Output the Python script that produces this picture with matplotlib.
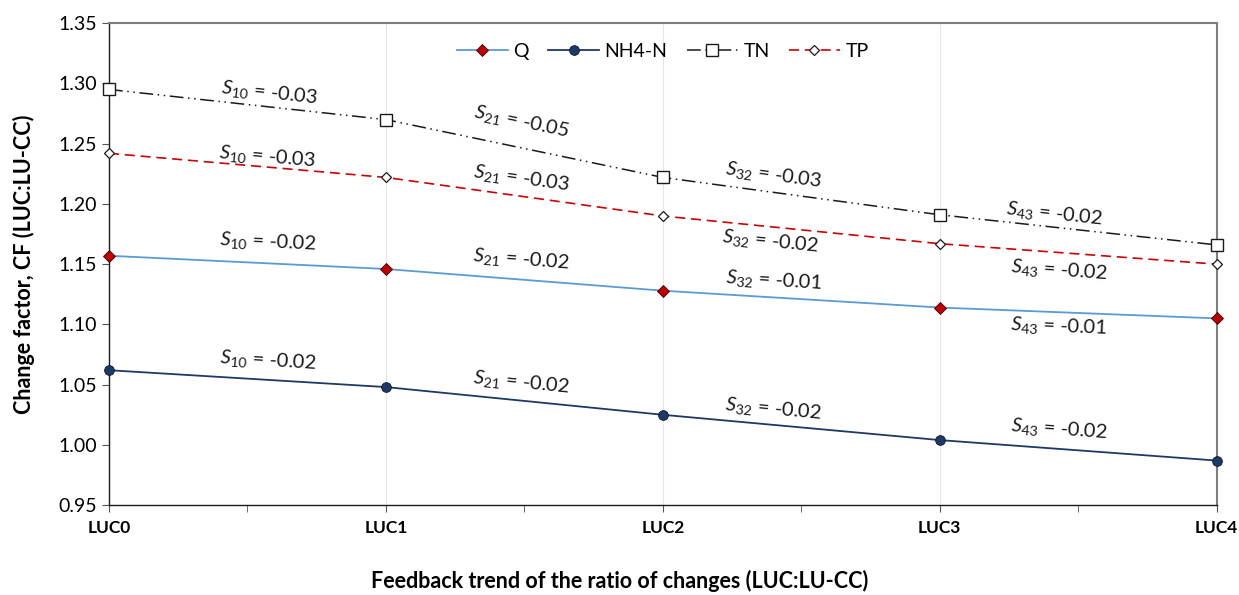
import numpy as np
import matplotlib.pyplot as plt

plt.rcParams['font.family'] = ['Lato', 'DejaVu Sans']
plt.rcParams['mathtext.fontset'] = 'custom'
plt.rcParams['mathtext.rm'] = 'Lato'
plt.rcParams['mathtext.it'] = 'Lato:italic'

# Change factors per land-use change scenario
categories = ['LUC0', 'LUC1', 'LUC2', 'LUC3', 'LUC4']
q = [1.157, 1.146, 1.128, 1.114, 1.105]
nh4 = [1.062, 1.048, 1.025, 1.004, 0.987]
tn = [1.295, 1.270, 1.222, 1.191, 1.166]
tp = [1.242, 1.222, 1.190, 1.167, 1.150]

# Slopes between successive scenarios
slope_names = ['S_{10}', 'S_{21}', 'S_{32}', 'S_{43}']
q_slopes = [-0.02, -0.02, -0.01, -0.01]
nh4_slopes = [-0.02, -0.02, -0.02, -0.02]
tn_slopes = [-0.03, -0.05, -0.03, -0.02]
tp_slopes = [-0.03, -0.03, -0.02, -0.02]

# where each slope label sits (x, y in data units)
tn_pos = [(0.58, 1.292), (1.49, 1.268), (2.40, 1.224), (3.415, 1.192)]
tp_pos = [(0.57, 1.239), (1.49, 1.221), (2.39, 1.169), (3.43, 1.145)]
q_pos = [(0.574, 1.1686), (1.49, 1.154), (2.40, 1.1365), (3.43, 1.098)]
nh4_pos = [(0.574, 1.070), (1.49, 1.0515), (2.40, 1.030), (3.43, 1.0135)]

fig = plt.figure(figsize=(12.39, 5.95), dpi=100)
ax = fig.add_axes([0.088, 0.151, 0.894, 0.810])
x = np.arange(len(categories))

ax.plot(x, q, color='#5B9BD5', lw=1.3, marker='D', ms=6.5,
        mfc='#C00000', mec='#3a0000', mew=0.6, label='Q', zorder=3, clip_on=False)
ax.plot(x, nh4, color='#1F3864', lw=1.3, marker='o', ms=7,
        mfc='#1F3864', mec='#0a1530', mew=0.6, label='NH4-N', zorder=3, clip_on=False)
ax.plot(x, tn, color='#1a1a1a', lw=1.1, ls=(0, (9, 3, 1, 3, 1, 3)),
        marker='s', ms=9, mfc='white', mec='#1a1a1a', mew=1.0,
        label='TN', zorder=3, clip_on=False)
ax.plot(x, tp, color='#D00000', lw=1.2, ls=(0, (6, 3.5)),
        marker='D', ms=5.5, mfc='white', mec='#1a1a1a', mew=0.9,
        label='TP', zorder=3, clip_on=False)

ax.set_xlim(0, 4)
ax.set_ylim(0.95, 1.35)
yt = np.arange(0.95, 1.351, 0.05)
ax.set_yticks(yt)
ax.set_yticklabels(['%.2f' % v for v in yt], fontsize=14)
ax.set_xticks(x)
ax.set_xticklabels(categories, fontsize=12.5, fontweight='bold')
ax.set_xticks(x[:-1] + 0.5, minor=True)
ax.tick_params(axis='x', which='both', direction='out', length=5, color='#555555', pad=6)
ax.tick_params(axis='y', direction='out', length=5, color='#555555')

ax.grid(axis='x', color='#e6e6e6', lw=0.8)
for side in ['top', 'right']:
    ax.spines[side].set_color('#7f7f7f')
    ax.spines[side].set_linewidth(1.5)
for side in ['left', 'bottom']:
    ax.spines[side].set_color('#1a1a1a')
    ax.spines[side].set_linewidth(1.0)

ax.set_ylabel('Change factor, CF (LUC:LU-CC)', fontsize=15.5, fontweight='bold')
ax.set_xlabel('Feedback trend of the ratio of changes (LUC:LU-CC)', fontsize=15.5,
              fontweight='bold')
ax.yaxis.set_label_coords(-0.067, 0.5)
ax.xaxis.set_label_coords(0.461, -0.135)

ax.legend(loc='upper center', bbox_to_anchor=(0.5, 0.995), ncol=4, frameon=False,
          fontsize=14, handlelength=2.6, columnspacing=1.0, handletextpad=0.3)


def label_slopes(values, slopes, positions):
    for i, (s, (px, py)) in enumerate(zip(slopes, positions)):
        p0 = ax.transData.transform((i, values[i]))
        p1 = ax.transData.transform((i + 1, values[i + 1]))
        ang = np.degrees(np.arctan2(p1[1] - p0[1], p1[0] - p0[0]))
        ax.text(px, py, r'$%s$ = %.2f' % (slope_names[i], s), fontsize=14.5,
                rotation=ang, rotation_mode='anchor', ha='center', va='center',
                color='#1a1a1a')


label_slopes(tn, tn_slopes, tn_pos)
label_slopes(tp, tp_slopes, tp_pos)
label_slopes(q, q_slopes, q_pos)
label_slopes(nh4, nh4_slopes, nh4_pos)

fig.savefig('out.png', dpi=100)
